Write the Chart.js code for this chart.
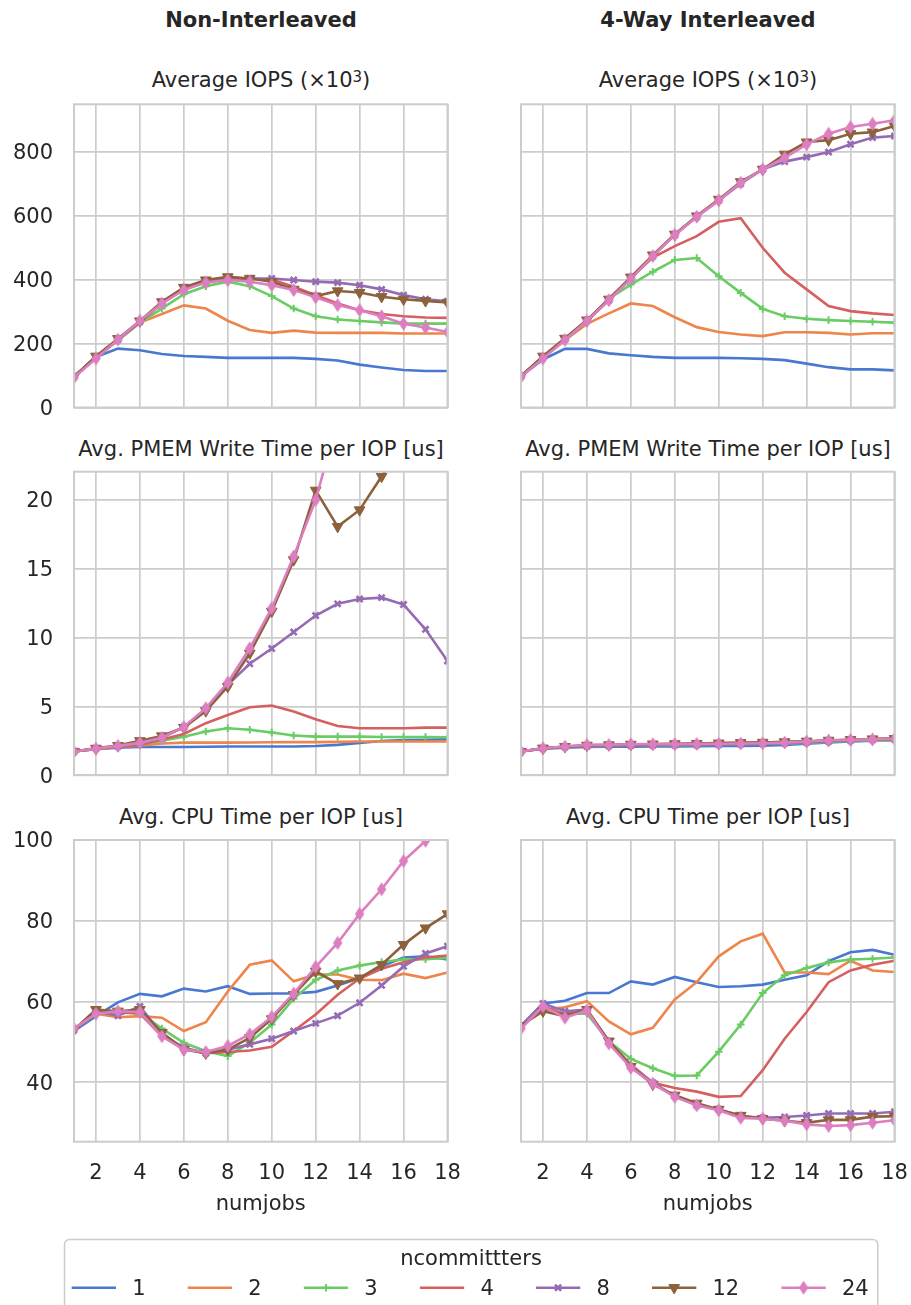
<!DOCTYPE html>
<html>
<head>
<meta charset="utf-8">
<script src="https://cdn.jsdelivr.net/npm/chart.js@4.4.1/dist/chart.umd.min.js"></script>
<style>
  html, body { margin: 0; padding: 0; background: #fff; }
  body { width: 911px; height: 1305px; position: relative; overflow: hidden;
         font-family: 'DejaVu Sans', sans-serif; color: #262626; }
  canvas { position: absolute; }
  .t { position: absolute; font-size: 21px; line-height: 21px; white-space: nowrap;
       transform: translateX(-50%); }
  .b { font-weight: bold; }
  .sup { font-size: 15px; position: relative; top: -5px; vertical-align: baseline; }
</style>
</head>
<body>
<div class="t b" style="left:261px; top:9.5px">Non-Interleaved</div>
<div class="t b" style="left:708px; top:9.5px">4-Way Interleaved</div>
<div class="t" style="left:261px; top:69.5px">Average IOPS (×10<span class="sup">3</span>)</div>
<div class="t" style="left:708px; top:69.5px">Average IOPS (×10<span class="sup">3</span>)</div>
<div class="t" style="left:261px; top:439px">Avg. PMEM Write Time per IOP [us]</div>
<div class="t" style="left:708px; top:439px">Avg. PMEM Write Time per IOP [us]</div>
<div class="t" style="left:261px; top:806.7px">Avg. CPU Time per IOP [us]</div>
<div class="t" style="left:708px; top:806.7px">Avg. CPU Time per IOP [us]</div>

<script>
// x values and legend entries
const numjobs = [1, 2, 3, 4, 5, 6, 7, 8, 9, 10, 11, 12, 13, 14, 15, 16, 17, 18];
const committers = ['1', '2', '3', '4', '8', '12', '24'];
const seriesColors = ['#4878d0', '#ee854a', '#6acc64', '#d65f5f', '#956cb4', '#8c613c', '#dc7ec0'];

// tick labels
const xTicks = [2, 4, 6, 8, 10, 12, 14, 16, 18];
const iopsTicks = [0, 200, 400, 600, 800];
const pmemTicks = [0, 5, 10, 15, 20];
const cpuTicks = [40, 60, 80, 100];

// Average IOPS (x10^3), one row per ncommitters value (1, 2, 3, 4, 8, 12, 24)
const iopsNonInterleaved = [
  [96, 158, 184, 179, 167, 161, 158, 155, 155, 155, 155, 152, 147, 134, 125, 117, 114, 114],
  [96, 155, 210, 265, 292, 319, 309, 271, 242, 233, 240, 234, 233, 233, 233, 231, 231, 231],
  [96, 157, 210, 265, 309, 354, 379, 393, 379, 348, 309, 285, 275, 270, 266, 262, 262, 262],
  [96, 157, 212, 267, 325, 370, 395, 405, 402, 400, 377, 351, 325, 304, 292, 285, 281, 280],
  [96, 157, 212, 268, 328, 372, 396, 405, 403, 403, 398, 393, 390, 382, 369, 351, 338, 332],
  [96, 160, 215, 270, 330, 375, 398, 408, 403, 393, 369, 348, 364, 359, 346, 338, 333, 328],
  [94, 153, 212, 271, 325, 367, 390, 398, 393, 382, 367, 344, 320, 304, 285, 262, 250, 236]
];
const iopsInterleaved = [
  [98, 150, 183, 183, 169, 163, 158, 155, 155, 155, 154, 152, 148, 137, 126, 119, 119, 116],
  [98, 155, 210, 261, 294, 325, 317, 282, 251, 236, 228, 223, 235, 235, 233, 228, 232, 232],
  [98, 157, 212, 268, 340, 384, 424, 461, 467, 410, 358, 308, 285, 277, 273, 270, 268, 265],
  [98, 157, 213, 270, 340, 405, 468, 504, 535, 580, 591, 499, 421, 369, 317, 301, 294, 289],
  [98, 157, 214, 272, 335, 405, 473, 539, 596, 647, 699, 744, 768, 782, 798, 822, 843, 848],
  [98, 160, 216, 273, 338, 407, 476, 541, 598, 650, 705, 744, 791, 829, 835, 855, 860, 879],
  [96, 153, 211, 270, 335, 402, 473, 539, 596, 647, 702, 744, 780, 822, 855, 876, 886, 897]
];

// Avg. PMEM write time per IOP [us]
const pmemNonInterleaved = [
  [1.72, 1.89, 2.0, 2.05, 2.05, 2.05, 2.07, 2.08, 2.08, 2.08, 2.09, 2.12, 2.2, 2.35, 2.48, 2.55, 2.58, 2.6],
  [1.72, 1.9, 2.05, 2.15, 2.3, 2.37, 2.37, 2.37, 2.38, 2.39, 2.4, 2.4, 2.42, 2.45, 2.45, 2.45, 2.45, 2.45],
  [1.72, 1.9, 2.05, 2.2, 2.5, 2.8, 3.17, 3.41, 3.3, 3.1, 2.88, 2.8, 2.8, 2.8, 2.78, 2.78, 2.78, 2.76],
  [1.72, 1.9, 2.05, 2.2, 2.6, 3.0, 3.78, 4.38, 4.94, 5.06, 4.62, 4.07, 3.58, 3.41, 3.41, 3.41, 3.46, 3.46],
  [1.72, 1.95, 2.1, 2.3, 2.7, 3.5, 4.8, 6.56, 8.1, 9.2, 10.4, 11.6, 12.45, 12.8, 12.9, 12.4, 10.6, 8.3],
  [1.72, 1.95, 2.15, 2.5, 2.85, 3.46, 4.67, 6.44, 8.86, 11.9, 15.64, 20.7, 18.06, 19.27, 21.7, 24.2, 25.8, 27.0],
  [1.72, 1.93, 2.13, 2.35, 2.72, 3.5, 4.87, 6.73, 9.22, 12.13, 15.9, 20.0, 25.8, 29.5, 33.0, 36.2, 38.8, 41.5]
];
const pmemInterleaved = [
  [1.72, 1.92, 2.0, 2.05, 2.07, 2.07, 2.08, 2.09, 2.1, 2.12, 2.13, 2.15, 2.2, 2.28, 2.38, 2.45, 2.5, 2.52],
  [1.72, 1.95, 2.05, 2.12, 2.15, 2.17, 2.2, 2.22, 2.25, 2.28, 2.32, 2.35, 2.38, 2.42, 2.48, 2.55, 2.6, 2.62],
  [1.72, 1.94, 2.04, 2.1, 2.12, 2.14, 2.16, 2.18, 2.2, 2.22, 2.25, 2.28, 2.3, 2.35, 2.42, 2.48, 2.5, 2.5],
  [1.72, 1.95, 2.06, 2.13, 2.17, 2.2, 2.23, 2.26, 2.3, 2.33, 2.36, 2.38, 2.4, 2.45, 2.5, 2.57, 2.62, 2.66],
  [1.72, 1.94, 2.05, 2.1, 2.13, 2.15, 2.17, 2.19, 2.2, 2.22, 2.25, 2.28, 2.32, 2.38, 2.45, 2.52, 2.57, 2.6],
  [1.72, 1.96, 2.08, 2.17, 2.2, 2.24, 2.26, 2.28, 2.3, 2.33, 2.36, 2.38, 2.42, 2.47, 2.53, 2.58, 2.63, 2.66],
  [1.72, 1.96, 2.08, 2.2, 2.2, 2.25, 2.25, 2.26, 2.27, 2.28, 2.3, 2.32, 2.37, 2.45, 2.52, 2.57, 2.6, 2.64]
];

// Avg. CPU time per IOP [us]
const cpuNonInterleaved = [
  [52.7, 56.4, 59.8, 61.9, 61.3, 63.2, 62.5, 63.8, 61.9, 62.0, 62.0, 62.4, 63.95, 65.8, 68.7, 70.9, 71.2, 70.4],
  [53.1, 57.0, 56.1, 56.4, 56.0, 52.7, 54.9, 62.5, 69.1, 70.2, 65.0, 66.7, 66.7, 65.4, 65.3, 66.9, 65.8, 67.2],
  [53.0, 57.6, 57.2, 57.2, 53.3, 49.8, 47.7, 46.5, 49.8, 54.3, 60.7, 65.4, 67.7, 68.9, 69.8, 70.4, 70.5, 70.8],
  [53.0, 57.4, 57.4, 57.0, 51.4, 48.3, 47.2, 47.5, 47.9, 48.8, 52.7, 56.8, 61.7, 65.7, 68.1, 69.7, 70.9, 71.4],
  [53.0, 57.6, 56.5, 58.8, 51.9, 48.6, 47.2, 48.1, 49.4, 50.8, 52.7, 54.6, 56.5, 59.7, 64.0, 68.7, 71.9, 73.7],
  [53.0, 58.0, 57.6, 58.0, 52.3, 48.1, 47.2, 48.1, 51.0, 55.7, 61.7, 67.5, 64.4, 65.8, 69.1, 74.1, 78.2, 81.7],
  [53.3, 57.0, 57.6, 57.4, 51.4, 48.1, 47.5, 49.0, 51.9, 56.2, 62.0, 68.6, 74.5, 81.7, 87.8, 94.8, 99.8, 105.5]
];
const cpuInterleaved = [
  [53.9, 59.5, 60.2, 62.1, 62.1, 65.0, 64.2, 66.1, 64.8, 63.6, 63.8, 64.2, 65.4, 66.5, 70.0, 72.2, 72.8, 71.6],
  [53.9, 58.0, 58.6, 60.1, 55.1, 51.9, 53.5, 60.5, 64.8, 71.2, 74.9, 76.8, 67.2, 67.2, 66.8, 70.1, 67.7, 67.3],
  [54.0, 58.4, 57.0, 57.0, 50.2, 45.8, 43.5, 41.6, 41.7, 47.6, 54.3, 62.1, 66.5, 68.3, 69.7, 70.4, 70.6, 70.9],
  [54.0, 58.8, 56.8, 57.6, 50.2, 44.4, 39.9, 38.6, 37.7, 36.4, 36.6, 43.0, 50.8, 57.4, 64.8, 67.7, 69.1, 70.1],
  [54.0, 59.5, 57.6, 58.0, 50.0, 44.0, 39.9, 36.6, 34.3, 33.3, 31.6, 31.2, 31.4, 31.8, 32.3, 32.3, 32.3, 32.7],
  [54.0, 57.6, 56.4, 58.0, 50.2, 43.9, 39.5, 36.8, 34.8, 33.3, 31.8, 31.0, 30.5, 30.0, 30.7, 30.7, 31.5, 31.6],
  [53.3, 58.8, 56.0, 57.8, 49.6, 43.6, 39.7, 36.4, 34.3, 33.1, 31.2, 31.0, 30.5, 29.6, 29.2, 29.4, 30.0, 30.6]
];

Chart.defaults.font.family = "'DejaVu Sans', sans-serif";
Chart.defaults.font.size = 21;
Chart.defaults.color = '#262626';

const GRID = '#cccccc';

// narrow diamond marker for the 24-committer series
function thinDiamond(color) {
  const c = document.createElement('canvas');
  c.width = 11; c.height = 15;
  const g = c.getContext('2d');
  g.fillStyle = color;
  g.beginPath();
  g.moveTo(5.5, 0.4); g.lineTo(10.2, 7.5); g.lineTo(5.5, 14.6); g.lineTo(0.8, 7.5);
  g.closePath(); g.fill();
  return c;
}

// marker per series: none for 1, 2 and 4
const markers = [
  null,
  null,
  { style: 'cross', r: 3.8, w: 2 },
  null,
  { style: 'crossRot', r: 4.3, w: 2.6 },
  { style: 'triangle', r: 6.2, w: 1, rot: 180 },
  { style: thinDiamond(seriesColors[6]), r: 7, w: 0 }
];

// axes frame drawn over the plotted lines
const framePlugin = {
  id: 'frame',
  afterDatasetsDraw(chart) {
    const { ctx, chartArea: a } = chart;
    ctx.save();
    ctx.strokeStyle = GRID;
    ctx.lineWidth = 2;
    ctx.strokeRect(a.left, a.top, a.right - a.left, a.bottom - a.top);
    ctx.restore();
  }
};

function buildDatasets(rows) {
  return rows.map((vals, i) => {
    const m = markers[i];
    return {
      label: committers[i],
      data: numjobs.map((x, k) => ({ x: x, y: vals[k] })),
      borderColor: seriesColors[i],
      backgroundColor: seriesColors[i],
      borderWidth: 2.6,
      tension: 0,
      clip: 0,
      order: rows.length - 1 - i,
      pointStyle: m ? m.style : 'circle',
      pointRadius: m ? m.r : 0,
      pointHoverRadius: m ? m.r : 0,
      pointBorderWidth: m ? m.w : 0,
      pointRotation: m && m.rot ? m.rot : 0,
      pointBackgroundColor: seriesColors[i],
      pointBorderColor: seriesColors[i]
    };
  });
}

// keep the axis boxes at fixed sizes, without extra label padding
function fixBox(prop, size) {
  return s => {
    s[prop] = size;
    s.paddingTop = 0; s.paddingBottom = 0; s.paddingLeft = 0; s.paddingRight = 0;
  };
}

// column / row geometry of the plotting areas
const columns = [
  { css: 0, canvasW: 470, left: 74, right: 447.5, showY: true },
  { css: 455, canvasW: 456, left: 521, right: 894.5, showY: false }
];
const rowsGeom = [
  { top: 104.3, bottom: 407.5, min: 0, max: 947, ticks: iopsTicks, showX: false },
  { top: 471.7, bottom: 775.2, min: 0, max: 22.05, ticks: pmemTicks, showX: false },
  { top: 840, bottom: 1141.7, min: 25.3, max: 100, ticks: cpuTicks, showX: true }
];
const panelData = [
  [iopsNonInterleaved, iopsInterleaved],
  [pmemNonInterleaved, pmemInterleaved],
  [cpuNonInterleaved, cpuInterleaved]
];

rowsGeom.forEach((rg, r) => {
  columns.forEach((cg, c) => {
    const cssTop = Math.floor(rg.top) - 16;
    const padT = rg.top - cssTop;
    const H = rg.showX ? 1232 - cssTop : Math.ceil(rg.bottom) + 14 - cssTop;
    const xH = H - (rg.bottom - cssTop);
    const W = cg.canvasW;
    const padR = W - (cg.right - cg.css);
    const yW = cg.left - cg.css;

    const cv = document.createElement('canvas');
    cv.width = W; cv.height = H;
    cv.style.left = cg.css + 'px';
    cv.style.top = cssTop + 'px';
    cv.style.width = W + 'px';
    cv.style.height = H + 'px';
    document.body.appendChild(cv);

    new Chart(cv.getContext('2d'), {
      type: 'line',
      data: { datasets: buildDatasets(panelData[r][c]) },
      options: {
        responsive: false,
        animation: false,
        devicePixelRatio: 1,
        events: [],
        layout: { padding: { top: padT, right: padR, left: 0, bottom: 0 } },
        plugins: { legend: { display: false }, tooltip: { enabled: false }, title: { display: false } },
        scales: {
          x: {
            type: 'linear',
            min: 1, max: 18,
            afterBuildTicks: s => { s.ticks = xTicks.map(v => ({ value: v })); },
            afterFit: fixBox('height', xH),
            grid: { color: GRID, lineWidth: 1.7, drawTicks: false },
            border: { display: false },
            ticks: { display: rg.showX, padding: 19.4, maxRotation: 0, autoSkip: false, color: '#262626' },
            title: { display: rg.showX, text: 'numjobs', color: '#262626', padding: { top: 0, bottom: 15.2 } }
          },
          y: {
            type: 'linear',
            min: rg.min, max: rg.max,
            afterBuildTicks: s => { s.ticks = rg.ticks.map(v => ({ value: v })); },
            afterFit: fixBox('width', yW),
            grid: { color: GRID, lineWidth: 1.7, drawTicks: false },
            border: { display: false },
            ticks: { display: cg.showY, padding: 21, labelOffset: 2, color: '#262626' }
          }
        }
      },
      plugins: [framePlugin]
    });
  });
});

// legend box at the bottom
(function drawLegend() {
  const top = 1230;
  const cv = document.createElement('canvas');
  cv.width = 911; cv.height = 1305 - top;
  cv.style.left = '0px'; cv.style.top = top + 'px';
  cv.style.width = '911px'; cv.style.height = (1305 - top) + 'px';
  document.body.appendChild(cv);
  const g = cv.getContext('2d');
  g.translate(0, -top);

  // frame
  g.strokeStyle = GRID;
  g.lineWidth = 1.5;
  g.beginPath();
  g.roundRect(64.5, 1239.5, 813.3, 100, 5);
  g.stroke();

  g.fillStyle = '#262626';
  g.font = "21px 'DejaVu Sans'";
  g.textAlign = 'center';
  g.textBaseline = 'alphabetic';
  g.fillText('ncommittters', 471, 1265);

  g.textAlign = 'left';
  let x = 71.7;
  const lineLen = 44.3, textGap = 16.2, colGap = 42.2;
  const ly = 1287.7;
  committers.forEach((lab, i) => {
    const col = seriesColors[i];
    g.strokeStyle = col;
    g.lineWidth = 2.6;
    g.beginPath(); g.moveTo(x, ly); g.lineTo(x + lineLen, ly); g.stroke();
    const m = markers[i];
    if (m) {
      g.fillStyle = col; g.strokeStyle = col; g.lineWidth = m.w;
      Chart.helpers.drawPoint(g, {
        pointStyle: m.style, radius: m.r, rotation: m.rot || 0, borderWidth: m.w
      }, x + lineLen / 2, ly);
    }
    g.fillStyle = '#262626';
    const tx = x + lineLen + textGap;
    g.fillText(lab, tx, 1295);
    x = tx + g.measureText(lab).width + colGap;
  });
})();
</script>
</body>
</html>
